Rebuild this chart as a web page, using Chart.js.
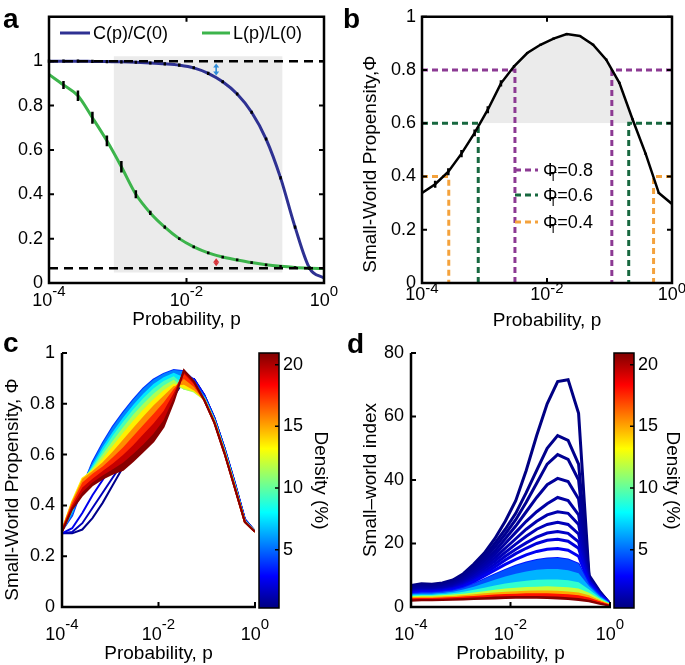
<!DOCTYPE html>
<html>
<head>
<meta charset="utf-8">
<script src="https://cdn.jsdelivr.net/npm/chart.js@4.4.1/dist/chart.umd.min.js"></script>
<style>
  html, body { margin: 0; padding: 0; background: #fff; }
  #fig { position: relative; width: 685px; height: 665px; overflow: hidden; background: #fff; }
  #fig canvas { position: absolute; }
  .tag { position: absolute; font: bold 28px "Liberation Sans", Arial, sans-serif; line-height: 28px; color: #000; }
</style>
</head>
<body>
<div id="fig">
  <canvas id="chartA" width="340" height="335" style="left:0;top:0"></canvas>
  <canvas id="chartB" width="345" height="335" style="left:340px;top:0"></canvas>
  <canvas id="chartC" width="280" height="345" style="left:0;top:320px"></canvas>
  <canvas id="barC" width="100" height="345" style="left:245px;top:320px"></canvas>
  <canvas id="chartD" width="290" height="345" style="left:340px;top:320px"></canvas>
  <canvas id="barD" width="85" height="345" style="left:600px;top:320px"></canvas>
  <div class="tag" style="left:3px;top:5px">a</div>
  <div class="tag" style="left:343px;top:5px">b</div>
  <div class="tag" style="left:3px;top:329px">c</div>
  <div class="tag" style="left:347px;top:330px">d</div>
</div>
<script>
const FONT = '"Liberation Sans", Arial, Helvetica, sans-serif';
Chart.defaults.font.family = FONT;
Chart.defaults.color = "#000";

// rewiring probability grid shared by all panels
const pGrid = [1e-4, 1.624e-4, 2.637e-4, 4.281e-4, 6.952e-4, 1.129e-3, 1.833e-3, 2.976e-3, 4.833e-3, 7.848e-3,
  1.274e-2, 2.069e-2, 3.36e-2, 5.456e-2, 8.859e-2, 0.1438, 0.2336, 0.3793, 0.6158, 1];
const xTickVals = [1e-4, 1e-2, 1];
const xTickExp = ["-4", "-2", "0"];

// panel a
const clusterRatio = [1.0, 1.0, 1.0, 0.999, 0.998, 0.997, 0.995, 0.992, 0.988, 0.982,
  0.97, 0.945, 0.907, 0.852, 0.77, 0.649, 0.474, 0.252, 0.067, 0.022];
const clusterErr = [0.007, 0.007, 0.007, 0.007, 0.007, 0.007, 0.007, 0.007, 0.007, 0.007,
  0.007, 0.007, 0.007, 0.007, 0.007, 0.007, 0.007, 0.007, 0.007, 0];
const pathRatio = [0.94, 0.893, 0.844, 0.745, 0.641, 0.524, 0.40, 0.316, 0.252, 0.20,
  0.163, 0.136, 0.117, 0.104, 0.092, 0.082, 0.075, 0.07, 0.067, 0.065];
const pathErr = [0, 0.018, 0.024, 0.027, 0.024, 0.026, 0.018, 0.01, 0.007, 0.006,
  0.006, 0.006, 0.006, 0.006, 0.006, 0.006, 0.006, 0.006, 0.006, 0];
const refLevels = [1, 0.067];
const shadeP = [8.7e-4, 0.25];
const shadeY = [0.047, 1.022];
const arrowP = 0.027;
const clusterGap = [0.99, 0.935];
const pathGap = [0.112, 0.075];

// panel b
const propensity = [0.338, 0.371, 0.418, 0.486, 0.564, 0.651, 0.75, 0.814, 0.864, 0.895,
  0.918, 0.935, 0.928, 0.895, 0.839, 0.752, 0.615, 0.485, 0.338, 0.297];
const propensityErr = [0, 0.013, 0.013, 0.014, 0.013, 0.013, 0.012, 0.005, 0.004, 0.004,
  0.004, 0.004, 0.004, 0.004, 0.004, 0.004, 0.004, 0.004, 0.004, 0];
const thresholds = [0.8, 0.6, 0.4];
const thrLeftP = [3.07e-3, 7.94e-4, 2.68e-4];
const thrRightP = [0.109, 0.203, 0.507];
const thrColors = ["#8c3a93", "#17683f", "#f4a23c"];

// colour bar (density, %)
const cbMin = 0.27;
const cbMax = 20.95;
const cbTicks = [5, 10, 15, 20];

// panel c: propensity curves per density
const cDensity = [0.5, 1.5, 2.5, 3.8, 5.5, 7.5, 9.5, 11.5, 13.5, 15.5, 17.5, 19.5, 20.8];
const propensityByDensity = [
  [0.29, 0.29, 0.305, 0.35, 0.41, 0.48, 0.55, 0.60, 0.65, 0.70, 0.76, 0.83, 0.89, 0.897, 0.835, 0.745, 0.625, 0.49, 0.345, 0.298],
  [0.29, 0.295, 0.33, 0.39, 0.45, 0.51, 0.57, 0.62, 0.67, 0.72, 0.78, 0.85, 0.90, 0.897, 0.835, 0.745, 0.625, 0.49, 0.345, 0.298],
  [0.29, 0.31, 0.37, 0.44, 0.50, 0.56, 0.62, 0.68, 0.73, 0.78, 0.83, 0.88, 0.91, 0.897, 0.835, 0.745, 0.625, 0.49, 0.345, 0.298],
  [0.30, 0.36, 0.47, 0.57, 0.645, 0.71, 0.765, 0.815, 0.86, 0.895, 0.918, 0.933, 0.928, 0.893, 0.83, 0.74, 0.62, 0.485, 0.342, 0.297],
  [0.30, 0.37, 0.48, 0.56, 0.63, 0.69, 0.745, 0.795, 0.84, 0.878, 0.905, 0.922, 0.905, 0.88, 0.827, 0.738, 0.618, 0.483, 0.34, 0.297],
  [0.30, 0.38, 0.485, 0.55, 0.615, 0.675, 0.728, 0.778, 0.822, 0.86, 0.89, 0.908, 0.875, 0.862, 0.823, 0.735, 0.615, 0.48, 0.338, 0.297],
  [0.30, 0.39, 0.49, 0.545, 0.60, 0.655, 0.707, 0.757, 0.80, 0.84, 0.872, 0.895, 0.86, 0.852, 0.82, 0.732, 0.612, 0.478, 0.337, 0.296],
  [0.30, 0.405, 0.50, 0.54, 0.585, 0.635, 0.685, 0.733, 0.778, 0.818, 0.853, 0.88, 0.86, 0.848, 0.818, 0.73, 0.61, 0.476, 0.336, 0.296],
  [0.30, 0.415, 0.505, 0.535, 0.57, 0.612, 0.658, 0.705, 0.75, 0.793, 0.832, 0.87, 0.875, 0.852, 0.817, 0.729, 0.608, 0.474, 0.336, 0.296],
  [0.30, 0.41, 0.49, 0.525, 0.553, 0.59, 0.628, 0.672, 0.717, 0.76, 0.805, 0.858, 0.898, 0.866, 0.816, 0.728, 0.607, 0.473, 0.335, 0.296],
  [0.30, 0.40, 0.47, 0.505, 0.535, 0.565, 0.598, 0.637, 0.68, 0.722, 0.772, 0.843, 0.918, 0.878, 0.816, 0.727, 0.606, 0.472, 0.335, 0.296],
  [0.298, 0.39, 0.452, 0.49, 0.518, 0.542, 0.568, 0.602, 0.64, 0.682, 0.735, 0.823, 0.928, 0.884, 0.815, 0.726, 0.605, 0.471, 0.335, 0.296],
  [0.296, 0.385, 0.44, 0.48, 0.505, 0.525, 0.54, 0.575, 0.613, 0.652, 0.71, 0.81, 0.932, 0.887, 0.815, 0.725, 0.604, 0.47, 0.335, 0.296],
];

// panel d: small-world index per density
const dDensity = [0.35, 0.5, 0.65, 0.8, 1.0, 1.2, 1.45, 1.75, 2.1, 2.6, 3.3, 4.5, 6.5, 9, 12, 15, 18, 20.8];
const swIndexByDensity = [
  [6.8, 7.3, 7.2, 7.6, 8.5, 10.5, 13.5, 17, 21.5, 27, 33.5, 43, 54, 64, 71, 71.6, 61, 10, 5, 1],
  [6.5, 6.9, 6.9, 7.3, 8.2, 10.0, 12.8, 16, 20, 24.5, 29.5, 36, 43, 50, 54, 52.5, 45, 9.5, 4.8, 1],
  [6.2, 6.6, 6.5, 6.9, 7.8, 9.5, 12.2, 15.2, 18.8, 23, 27.5, 33, 39, 45, 48, 46.5, 40, 9.3, 4.6, 1],
  [5.8, 6.2, 6.1, 6.5, 7.4, 9.0, 11.5, 14.4, 17.6, 21.5, 25.5, 30, 34.5, 38.5, 40.5, 39.5, 34, 9, 4.5, 1],
  [5.5, 5.9, 5.8, 6.2, 7.0, 8.5, 10.8, 13.5, 16.5, 20, 23.5, 27, 30, 32.5, 34.5, 33.5, 29, 8.7, 4.4, 1],
  [5.2, 5.6, 5.5, 5.9, 6.6, 8.0, 10.2, 12.7, 15.5, 18.5, 21.5, 24.5, 27, 29, 30, 29.5, 26, 8.5, 4.3, 1],
  [5.0, 5.3, 5.3, 5.6, 6.3, 7.6, 9.6, 12, 14.5, 17.2, 19.8, 22.3, 24.5, 26, 26.7, 26, 23, 8.3, 4.2, 1],
  [4.8, 5.1, 5.1, 5.4, 6.0, 7.2, 9.0, 11.2, 13.5, 16, 18.2, 20.2, 22, 23.3, 23.8, 23.2, 20.5, 8.1, 4.1, 1],
  [4.6, 4.9, 4.9, 5.2, 5.8, 6.9, 8.5, 10.5, 12.6, 14.8, 16.8, 18.5, 20, 21, 21.3, 20.7, 18.5, 7.9, 4.0, 1],
  [4.4, 4.7, 4.7, 5.0, 5.5, 6.5, 8.0, 9.8, 11.6, 13.4, 15.0, 16.4, 17.5, 18.2, 18.4, 17.9, 16, 7.6, 3.9, 1],
  [4.2, 4.5, 4.5, 4.8, 5.2, 6.1, 7.3, 8.8, 10.3, 11.7, 13.0, 14.0, 14.8, 15.3, 15.4, 15.0, 13.6, 7.2, 3.7, 1],
  [3.9, 4.2, 4.2, 4.4, 4.8, 5.5, 6.4, 7.5, 8.6, 9.6, 10.5, 11.2, 11.7, 12.0, 12.0, 11.6, 10.6, 6.5, 3.4, 0.9],
  [3.6, 3.8, 3.8, 4.0, 4.3, 4.8, 5.4, 6.1, 6.8, 7.4, 7.9, 8.3, 8.6, 8.7, 8.7, 8.4, 7.8, 5.5, 3.0, 0.9],
  [3.3, 3.5, 3.5, 3.7, 3.9, 4.2, 4.6, 5.0, 5.4, 5.8, 6.1, 6.3, 6.4, 6.5, 6.4, 6.2, 5.8, 4.5, 2.6, 0.8],
  [3.0, 3.2, 3.2, 3.3, 3.5, 3.7, 4.0, 4.3, 4.6, 4.8, 5.0, 5.1, 5.2, 5.2, 5.1, 4.9, 4.6, 3.7, 2.1, 0.7],
  [2.7, 2.8, 2.8, 2.9, 3.1, 3.3, 3.5, 3.7, 3.9, 4.1, 4.2, 4.3, 4.3, 4.3, 4.2, 4.0, 3.7, 3.0, 1.8, 0.6],
  [2.4, 2.5, 2.5, 2.6, 2.7, 2.8, 3.0, 3.1, 3.3, 3.4, 3.5, 3.5, 3.5, 3.4, 3.3, 3.1, 2.8, 2.3, 1.4, 0.5],
  [2.0, 2.1, 2.1, 2.2, 2.3, 2.4, 2.5, 2.6, 2.7, 2.8, 2.9, 2.9, 2.9, 2.8, 2.7, 2.5, 2.2, 1.8, 1.0, 0.4],
];

const xy = (xs, ys) => xs.map((x, i) => ({ x, y: ys[i] }));

function jet(t) {
  const c = (v) => Math.round(255 * Math.min(1, Math.max(0, v)));
  return `rgb(${c(1.5 - Math.abs(4 * t - 3))},${c(1.5 - Math.abs(4 * t - 2))},${c(1.5 - Math.abs(4 * t - 1))})`;
}
const densityColor = (d) => jet((d - cbMin) / (cbMax - cbMin));

// matlab-like frame, inward ticks and 10^n labels
const matlabAxes = {
  id: "matlabAxes",
  afterDraw(chart, args, o) {
    const { ctx, chartArea: a, scales: { x, y } } = chart;
    const tl = 5;
    ctx.save();
    ctx.strokeStyle = "#000";
    ctx.lineWidth = 2;
    ctx.beginPath();
    xTickVals.forEach((v) => {
      const px = x.getPixelForValue(v);
      ctx.moveTo(px, a.bottom);
      ctx.lineTo(px, a.bottom - tl);
      if (o.box) {
        ctx.moveTo(px, a.top);
        ctx.lineTo(px, a.top + tl);
      }
    });
    y.ticks.forEach((t) => {
      const py = y.getPixelForValue(t.value);
      ctx.moveTo(a.left, py);
      ctx.lineTo(a.left + tl, py);
      if (o.box) {
        ctx.moveTo(a.right, py);
        ctx.lineTo(a.right - tl, py);
      }
    });
    ctx.stroke();
    ctx.lineWidth = 2.5;
    ctx.beginPath();
    if (o.box) {
      ctx.rect(a.left, a.top, a.right - a.left, a.bottom - a.top);
    } else {
      ctx.moveTo(a.left, a.top);
      ctx.lineTo(a.left, a.bottom);
      ctx.lineTo(a.right + 1, a.bottom);
    }
    ctx.stroke();

    ctx.fillStyle = "#000";
    ctx.textAlign = "left";
    ctx.textBaseline = "alphabetic";
    xTickVals.forEach((v, k) => {
      const px = x.getPixelForValue(v);
      ctx.font = `18px ${FONT}`;
      const wb = ctx.measureText("10").width;
      ctx.font = `15px ${FONT}`;
      const we = ctx.measureText(xTickExp[k]).width;
      const x0 = px - (wb + we) / 2;
      ctx.font = `18px ${FONT}`;
      ctx.fillText("10", x0, a.bottom + o.baseDy + 6.4);
      ctx.font = `15px ${FONT}`;
      ctx.fillText(xTickExp[k], x0 + wb, a.bottom + o.supDy + 5.4);
    });
    ctx.restore();
  },
};

const errorBars = {
  id: "errorBars",
  afterDatasetsDraw(chart) {
    const { ctx, scales: { y } } = chart;
    chart.data.datasets.forEach((ds, di) => {
      if (!ds.errors) return;
      const meta = chart.getDatasetMeta(di);
      ctx.save();
      ctx.strokeStyle = "#000";
      ctx.lineWidth = 2.5;
      ctx.beginPath();
      meta.data.forEach((pt, i) => {
        const e = ds.errors[i];
        if (!e) return;
        const v = ds.data[i].y;
        ctx.moveTo(pt.x, y.getPixelForValue(v - e));
        ctx.lineTo(pt.x, y.getPixelForValue(v + e));
      });
      ctx.stroke();
      ctx.restore();
    });
  },
};

function drawDoubleArrow(ctx, x, y1, y2, color) {
  ctx.save();
  ctx.strokeStyle = color;
  ctx.fillStyle = color;
  ctx.lineWidth = 1.6;
  ctx.beginPath();
  ctx.moveTo(x, y1 + 2);
  ctx.lineTo(x, y2 - 2);
  ctx.stroke();
  [[y1, 1], [y2, -1]].forEach(([yy, s]) => {
    ctx.beginPath();
    ctx.moveTo(x, yy);
    ctx.lineTo(x - 3, yy + 4 * s);
    ctx.lineTo(x + 3, yy + 4 * s);
    ctx.closePath();
    ctx.fill();
  });
  ctx.restore();
}

const aLegend = {
  id: "aLegend",
  afterDraw(chart) {
    const { ctx, scales: { x, y } } = chart;
    ctx.save();
    ctx.font = `18px ${FONT}`;
    ctx.textAlign = "left";
    ctx.textBaseline = "alphabetic";
    ctx.fillStyle = "#000";
    [[60, 90, 93, 1], [202, 230, 233, 2]].forEach(([x1, x2, tx, di]) => {
      const ds = chart.data.datasets[di];
      ctx.strokeStyle = ds.borderColor;
      ctx.lineWidth = 3;
      ctx.beginPath();
      ctx.moveTo(x1, 33);
      ctx.lineTo(x2, 33);
      ctx.stroke();
      ctx.fillText(ds.label, tx, 33 + 6.4);
    });
    const ax = x.getPixelForValue(arrowP);
    drawDoubleArrow(ctx, ax, y.getPixelForValue(clusterGap[0]), y.getPixelForValue(clusterGap[1]), "#2d8bd8");
    drawDoubleArrow(ctx, ax, y.getPixelForValue(pathGap[0]), y.getPixelForValue(pathGap[1]), "#d8353b");
    ctx.restore();
  },
};

const bLegend = {
  id: "bLegend",
  afterDraw(chart) {
    const { ctx } = chart;
    const rows = [170, 195, 222];
    ctx.save();
    ctx.textAlign = "left";
    ctx.textBaseline = "alphabetic";
    thresholds.forEach((t, k) => {
      const yy = rows[k];
      ctx.strokeStyle = thrColors[k];
      ctx.lineWidth = 3;
      ctx.setLineDash([6, 4]);
      ctx.beginPath();
      ctx.moveTo(175, yy);
      ctx.lineTo(198, yy);
      ctx.stroke();
      ctx.setLineDash([]);
      ctx.fillStyle = "#000";
      ctx.font = `18px ${FONT}`;
      const w = ctx.measureText("Φ").width;
      ctx.fillText("Φ", 203, yy + 6.4);
      ctx.fillText("=" + t.toFixed(1), 203 + w, yy + 6.4);
      ctx.font = `12px ${FONT}`;
      ctx.fillText("T", 203 + w * 0.45, yy + 11);
    });
    ctx.restore();
  },
};

const colorbarFill = {
  id: "colorbarFill",
  afterDraw(chart) {
    const { ctx, chartArea: a, scales: { y } } = chart;
    const top = y.getPixelForValue(cbMax);
    const bottom = y.getPixelForValue(cbMin);
    const g = ctx.createLinearGradient(0, bottom, 0, top);
    for (let k = 0; k <= 16; k++) g.addColorStop(k / 16, jet(k / 16));
    ctx.save();
    ctx.fillStyle = g;
    ctx.fillRect(a.left, top, a.right - a.left, bottom - top);
    ctx.strokeStyle = "#000";
    ctx.lineWidth = 1.5;
    ctx.strokeRect(a.left, top, a.right - a.left, bottom - top);
    ctx.beginPath();
    cbTicks.forEach((v) => {
      const py = y.getPixelForValue(v);
      ctx.moveTo(a.right - 4, py);
      ctx.lineTo(a.right, py);
    });
    ctx.stroke();
    ctx.restore();
  },
};

const axisTitle = (text, pad) => ({ display: true, text, font: { size: 19 }, color: "#000", padding: pad });

function makeChart(id, datasets, cfg, extraPlugins) {
  return new Chart(document.getElementById(id), {
    type: "line",
    data: { datasets },
    options: {
      responsive: false,
      animation: false,
      devicePixelRatio: 1,
      events: [],
      layout: { padding: cfg.pad },
      elements: { point: { radius: 0 } },
      plugins: {
        legend: { display: false },
        tooltip: { enabled: false },
        filler: { drawTime: cfg.fillTime, propagate: false },
        matlabAxes: { box: cfg.box, baseDy: cfg.baseDy, supDy: cfg.supDy },
      },
      scales: {
        x: {
          type: "logarithmic",
          min: 1e-4,
          max: 1,
          ticks: { display: false },
          grid: { display: false, drawTicks: false },
          border: { display: false },
          title: axisTitle("Probability, p", { top: 0, bottom: cfg.xTitlePad }),
          afterFit: (s) => { s.height = cfg.xHeight; },
        },
        y: {
          min: cfg.yMin,
          max: cfg.yMax,
          afterBuildTicks: (s) => { s.ticks = cfg.yTicks.map((v) => ({ value: v })); },
          ticks: { font: { size: 18 }, color: "#000", padding: cfg.yTickPad, callback: (v) => String(v) },
          grid: { display: false, drawTicks: false },
          border: { display: false },
          title: cfg.yTitle ? axisTitle(cfg.yTitle, { top: cfg.yTitlePad, bottom: 0 }) : { display: false },
          afterFit: (s) => { s.width = cfg.yWidth; },
        },
      },
    },
    plugins: [matlabAxes, errorBars, ...extraPlugins],
  });
}

function makeColorbar(id, cfg) {
  return new Chart(document.getElementById(id), {
    type: "line",
    data: { datasets: [] },
    options: {
      responsive: false,
      animation: false,
      devicePixelRatio: 1,
      events: [],
      layout: { padding: { left: 14, right: 0, top: 33, bottom: 57 } },
      plugins: { legend: { display: false }, tooltip: { enabled: false } },
      scales: {
        x: { type: "linear", display: false },
        y: {
          position: "right",
          min: cbMin,
          max: cbMax,
          afterBuildTicks: (s) => { s.ticks = cbTicks.map((v) => ({ value: v })); },
          ticks: { font: { size: 18 }, color: "#000", padding: 4 },
          grid: { display: false, drawTicks: false },
          border: { display: false },
          title: axisTitle("Density (%)", { top: cfg.titlePad, bottom: 0 }),
          afterFit: (s) => { s.width = cfg.width; },
        },
      },
    },
    plugins: [colorbarFill],
  });
}

// a
makeChart("chartA", [
  {
    data: xy(shadeP, [shadeY[1], shadeY[1]]),
    fill: { target: { value: shadeY[0] } },
    backgroundColor: "#ebebeb",
    borderColor: "rgba(0,0,0,0)",
    borderWidth: 1,
    order: 4,
  },
  {
    label: "C(p)/C(0)",
    data: xy(pGrid, clusterRatio),
    errors: clusterErr,
    borderColor: "#2e3192",
    borderWidth: 3,
    cubicInterpolationMode: "monotone",
    fill: false,
    order: 3,
  },
  {
    label: "L(p)/L(0)",
    data: xy(pGrid, pathRatio),
    errors: pathErr,
    borderColor: "#3cb44b",
    borderWidth: 3,
    cubicInterpolationMode: "monotone",
    fill: false,
    order: 2,
  },
  ...refLevels.map((l) => ({
    data: [{ x: 1e-4, y: l }, { x: 1, y: l }],
    borderColor: "#000",
    borderWidth: 2.5,
    borderDash: [9, 6],
    fill: false,
    order: 1,
  })),
], {
  pad: { left: 0, right: 16, top: 13, bottom: 0 },
  fillTime: "beforeDatasetsDraw",
  box: true, baseDy: 16.5, supDy: 8,
  xHeight: 52, xTitlePad: 4,
  yMin: 0, yMax: 1.2, yTicks: [0, 0.2, 0.4, 0.6, 0.8, 1],
  yTickPad: 6, yWidth: 49,
}, [aLegend]);

// b
const thresholdLines = [];
thresholds.forEach((t, k) => {
  [[1e-4, thrLeftP[k]], [1, thrRightP[k]]].forEach(([edge, p]) => {
    thresholdLines.push({
      data: [{ x: edge, y: t }, { x: p, y: t }, { x: p, y: 0 }],
      borderColor: thrColors[k],
      borderWidth: 3,
      borderDash: [6, 4],
      fill: false,
      order: 1,
    });
  });
});
makeChart("chartB", [
  {
    data: xy(pGrid, propensity),
    errors: propensityErr,
    borderColor: "#000",
    borderWidth: 2.5,
    fill: { target: { value: 0.6 }, above: "#ebebeb", below: "rgba(0,0,0,0)" },
    order: 0,
  },
  ...thresholdLines,
], {
  pad: { left: 0, right: 13, top: 13, bottom: 0 },
  fillTime: "beforeDatasetsDraw",
  box: true, baseDy: 11, supDy: 4.5,
  xHeight: 52, xTitlePad: 3,
  yMin: 0, yMax: 1, yTicks: [0, 0.2, 0.4, 0.6, 0.8, 1],
  yTickPad: 6, yWidth: 82,
  // trailing en spaces push the centred label down, as in the original
  yTitle: "Small-World Propensity,Φ\u2002\u2002\u2002", yTitlePad: 19,
}, [bLegend]);

// c
makeChart("chartC", propensityByDensity.map((vals, i) => ({
  data: xy(pGrid, vals),
  borderColor: densityColor(cDensity[i]),
  backgroundColor: densityColor(cDensity[i]),
  borderWidth: 2,
  fill: i >= 4 ? "-1" : false,
  order: cDensity.length - i,
})), {
  pad: { left: 0, right: 25, top: 33, bottom: 0 },
  fillTime: "beforeDatasetDraw",
  box: false, baseDy: 27, supDy: 17,
  xHeight: 58, xTitlePad: 0,
  yMin: 0, yMax: 1, yTicks: [0, 0.2, 0.4, 0.6, 0.8, 1],
  yTickPad: 7, yWidth: 62,
  yTitle: "Small-World Propensity, Φ\u2002\u2002", yTitlePad: 1,
}, []);
makeColorbar("barC", { width: 66, titlePad: 13.6 });

// d
makeChart("chartD", swIndexByDensity.map((vals, i) => ({
  data: xy(pGrid, vals),
  borderColor: densityColor(dDensity[i]),
  backgroundColor: densityColor(dDensity[i]),
  borderWidth: i < 10 ? 3 : 2,
  fill: i >= 11 ? "-1" : false,
  order: dDensity.length - i,
})), {
  pad: { left: 0, right: 20, top: 33, bottom: 0 },
  fillTime: "beforeDatasetDraw",
  box: false, baseDy: 27, supDy: 17,
  xHeight: 58, xTitlePad: 0,
  yMin: 0, yMax: 80, yTicks: [0, 20, 40, 60, 80],
  yTickPad: 7, yWidth: 71,
  yTitle: "Small–world index", yTitlePad: 19,
}, []);
makeColorbar("barD", { width: 51, titlePad: 1 });
</script>
</body>
</html>
